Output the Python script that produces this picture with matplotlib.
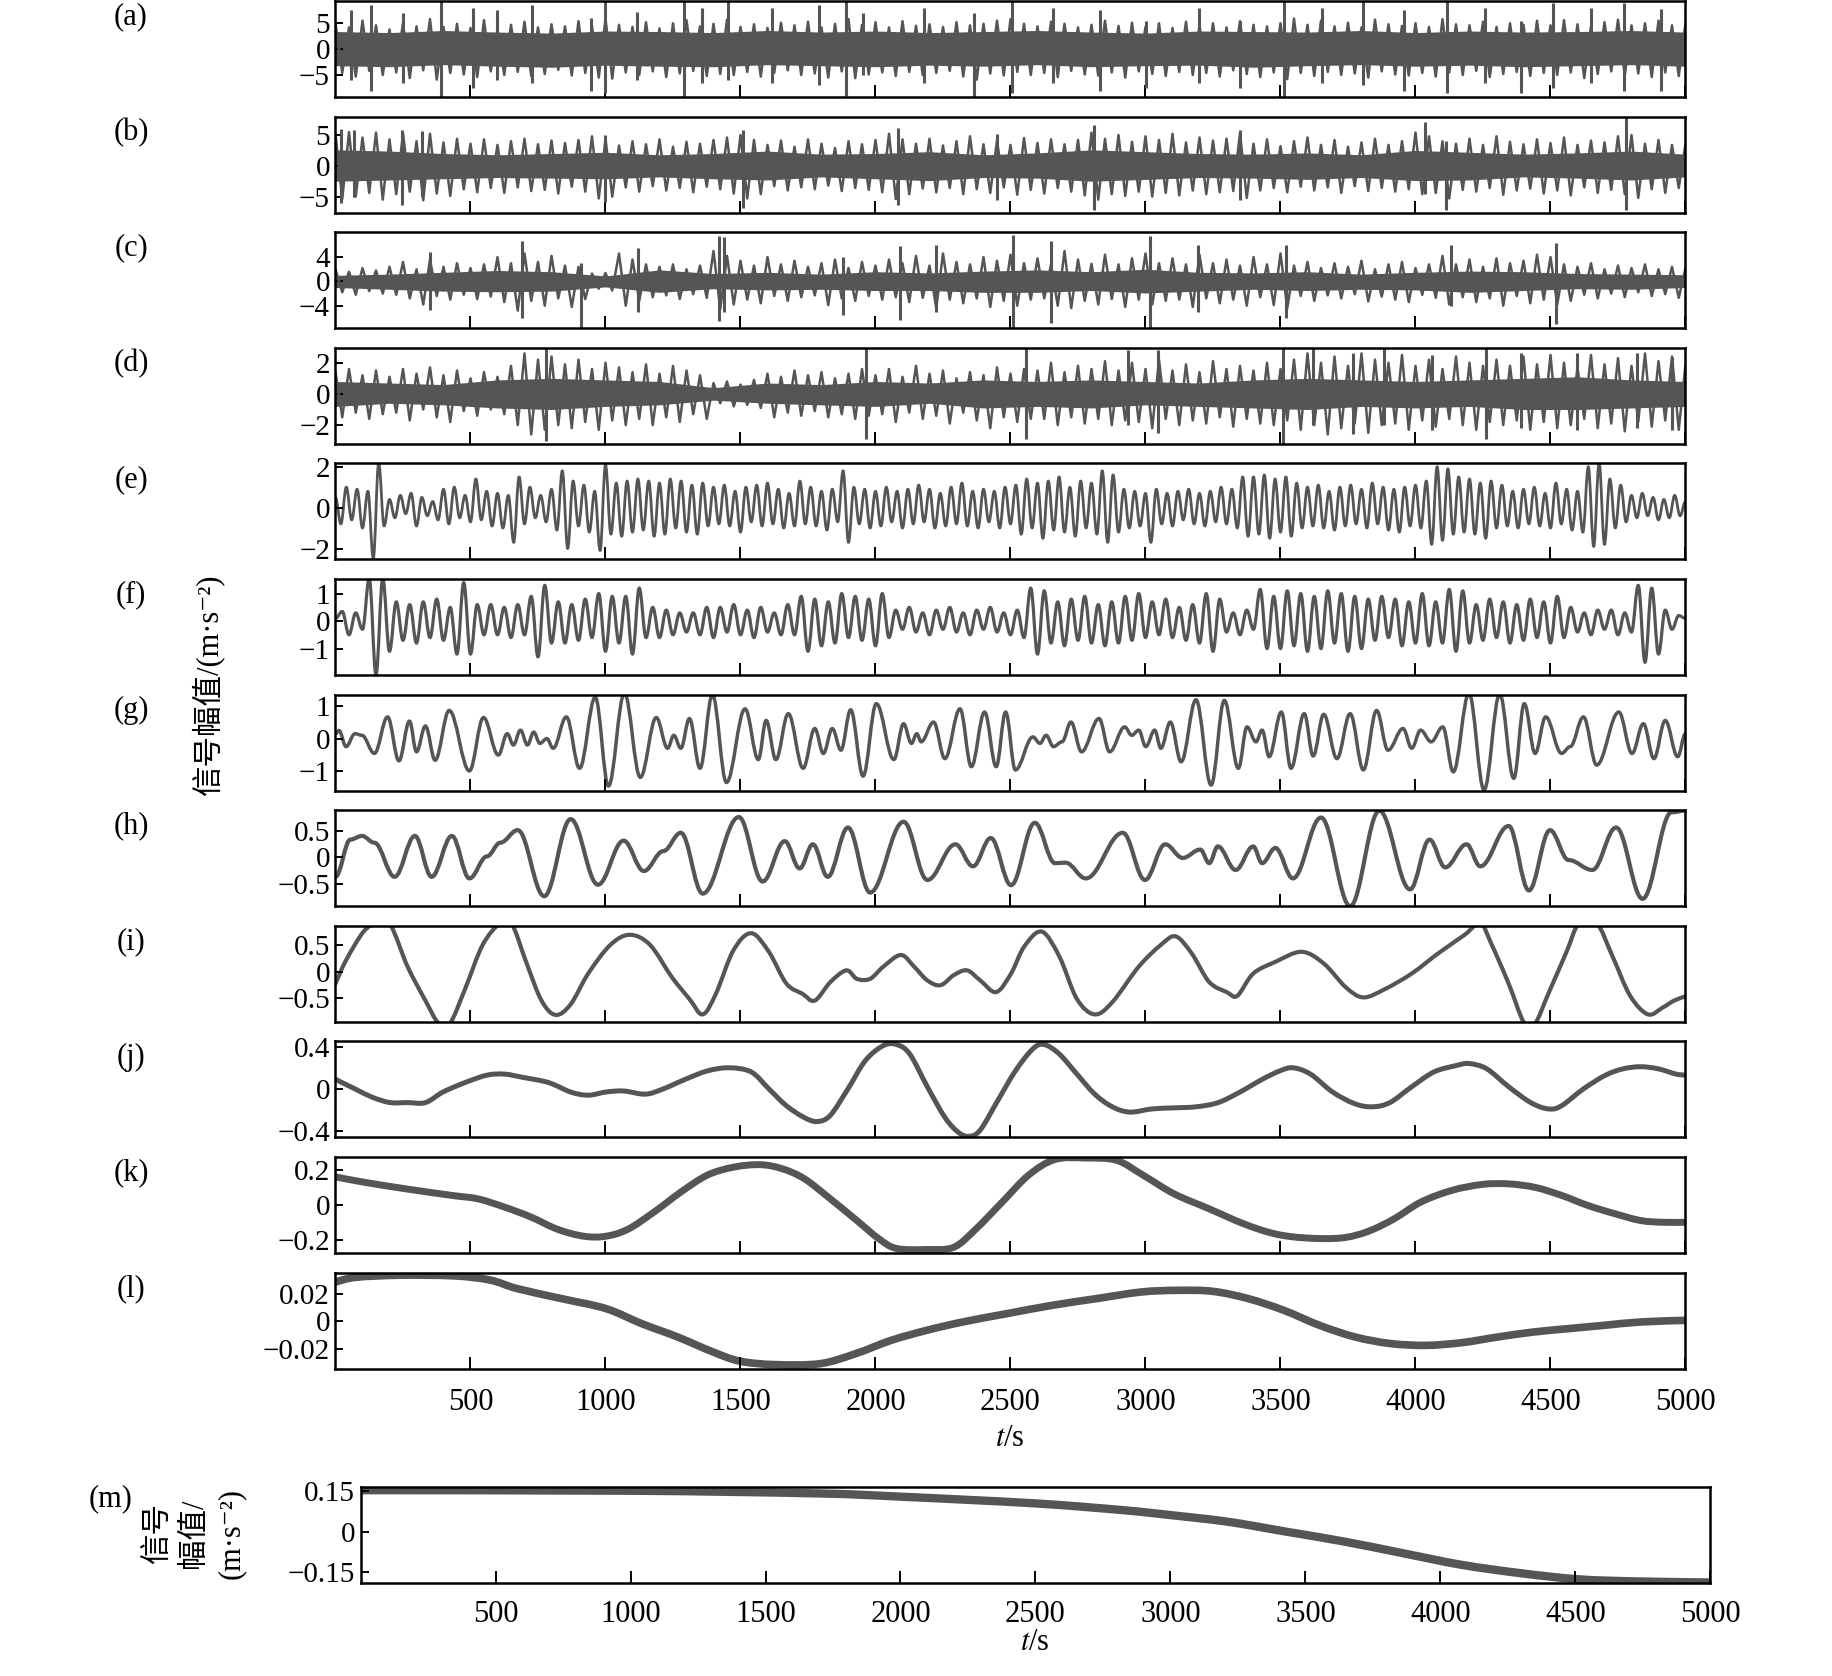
import matplotlib
matplotlib.use('Agg')
import matplotlib.pyplot as plt
from matplotlib.path import Path
from matplotlib.patches import PathPatch
import numpy as np

plt.rcParams['font.family'] = ['Liberation Serif', 'Noto Sans CJK SC', 'DejaVu Sans']
plt.rcParams['mathtext.fontset'] = 'stix'

# ---------------- data ----------------
# (a)-(d): dense IMFs -> solid core, peak envelope every 50 s, tall single spikes
t_core = np.arange(0, 5001, 200)
t_env = np.arange(0, 5001, 50)

a_core_hi = [3.4, 3.2, 3.6, 3.3, 3.1, 3.5, 3.4, 3.2, 3.6, 3.3, 3.5, 3.2, 3.4,
             3.6, 3.3, 3.1, 3.5, 3.4, 3.3, 3.6, 3.2, 3.5, 3.3, 3.4, 3.6, 3.3]
a_core_lo = [-3.2, -3.4, -3.0, -3.3, -3.5, -3.1, -3.3, -3.4, -3.0, -3.2, -3.4, -3.1, -3.3,
             -3.0, -3.4, -3.2, -3.1, -3.5, -3.2, -3.0, -3.3, -3.1, -3.4, -3.2, -3.0, -3.3]
a_hi = [5.0, 4.2, 5.5, 4.6, 3.8, 5.1, 4.4, 5.8, 4.3, 4.9,
        4.1, 5.6, 3.9, 4.7, 5.3, 4.2, 4.8, 4.4, 5.4, 4.5,
        5.9, 4.7, 4.3, 5.2, 4.0, 5.0, 5.6, 4.4, 4.9, 5.7,
        4.3, 4.8, 4.1, 5.1, 4.6, 5.3, 4.2, 4.9, 5.8, 4.7,
        5.2, 4.2, 5.4, 4.5, 4.8, 4.3, 5.2, 4.6, 4.9, 5.5,
        5.8, 4.9, 4.4, 5.3, 4.9, 4.2, 4.7, 5.5, 4.5, 5.1,
        4.3, 5.0, 4.1, 5.3, 4.6, 5.0, 4.2, 5.4, 4.7, 4.4,
        5.0, 5.9, 4.7, 5.5, 4.4, 5.1, 4.2, 5.7, 4.8, 4.5,
        5.0, 4.3, 5.8, 4.8, 4.6, 5.3, 4.3, 5.0, 4.7, 5.5,
        4.6, 5.6, 4.8, 4.4, 5.2, 5.7, 4.6, 5.0, 5.5, 4.6,
        5.0]
a_lo = [-4.6, -5.3, -4.2, -5.0, -4.5, -5.6, -4.1, -5.9, -4.6, -4.9,
        -5.4, -4.3, -5.0, -4.4, -5.2, -4.8, -4.0, -5.1, -4.6, -5.5,
        -5.7, -4.5, -5.0, -4.3, -5.4, -4.7, -4.2, -5.2, -4.8, -5.0,
        -4.4, -5.3, -4.6, -4.1, -5.0, -4.7, -5.5, -4.3, -5.6, -4.9,
        -4.5, -5.2, -4.4, -5.0, -4.6, -4.2, -5.3, -5.9, -4.7, -5.1,
        -4.4, -5.0, -4.6, -5.4, -4.2, -4.9, -5.1, -4.5, -5.5, -4.3,
        -4.8, -5.2, -4.4, -5.0, -4.6, -5.3, -4.1, -4.8, -5.4, -4.5,
        -5.8, -4.6, -5.2, -4.4, -5.0, -4.7, -5.5, -4.3, -4.9, -5.1,
        -4.6, -5.3, -4.5, -5.0, -4.2, -5.4, -4.8, -4.4, -5.2, -4.6,
        -5.0, -4.5, -5.6, -4.8, -4.3, -5.1, -4.7, -5.4, -4.5, -5.2,
        -4.8]
a_spk_t = [56, 130, 251, 390, 511, 598, 728, 945, 997, 1118,
           1291, 1356, 1452, 1616, 1790, 1889, 1954, 2180, 2366, 2505,
           2656, 2830, 3003, 3198, 3350, 3514, 3653, 3804, 3956, 4116,
           4259, 4389, 4511, 4650, 4771, 4909]
a_spk_hi = [7.5, 8.5, 7.0, 9.3, 8.0, 7.5, 8.5, 6.0, 9.3, 7.2,
            9.3, 8.0, 9.3, 8.0, 8.5, 9.3, 7.0, 8.0, 7.0, 9.3,
            8.0, 7.5, 5.5, 8.0, 5.5, 9.3, 8.0, 9.3, 7.5, 9.3,
            8.0, 5.5, 9.0, 8.0, 9.0, 7.8]
a_spk_lo = [-6.0, -8.0, -6.5, -9.3, -7.5, -6.0, -6.5, -8.0, -8.5, -6.0,
            -9.3, -6.5, -6.0, -6.5, -7.0, -9.0, -5.0, -6.5, -9.3, -8.5,
            -6.5, -8.0, -7.5, -6.5, -7.5, -9.3, -6.5, -7.0, -8.0, -8.5,
            -6.5, -8.5, -7.5, -6.5, -8.0, -8.0]

b_core_hi = [2.6, 2.4, 2.0, 1.8, 2.0, 2.2, 1.8, 2.0, 2.4, 1.9, 2.0, 2.3, 1.8,
             2.1, 2.6, 2.3, 2.0, 1.9, 2.1, 1.8, 2.5, 2.2, 1.9, 2.1, 2.4, 1.9]
b_core_lo = [-2.5, -2.3, -2.1, -1.9, -2.0, -2.1, -1.8, -2.1, -2.3, -1.8, -2.1, -2.4, -1.9,
             -2.0, -2.5, -2.2, -1.9, -2.0, -2.2, -1.9, -2.4, -2.3, -1.8, -2.0, -2.3, -1.8]
b_hi = [5.2, 5.5, 4.6, 5.4, 4.3, 5.3, 4.0, 5.2, 3.8, 4.4,
        3.6, 4.3, 3.4, 4.0, 4.4, 3.5, 4.1, 3.7, 4.2, 4.8,
        4.4, 3.3, 4.0, 3.5, 4.3, 3.1, 3.9, 3.6, 4.2, 4.6,
        5.0, 4.2, 3.4, 4.1, 3.1, 4.3, 3.6, 2.9, 4.0, 3.5,
        4.2, 5.2, 4.3, 3.6, 4.4, 3.3, 4.0, 4.8, 3.5, 4.1,
        3.4, 4.5, 3.7, 4.3, 3.5, 4.2, 5.4, 4.4, 5.0, 3.9,
        4.8, 4.2, 5.2, 3.8, 4.6, 4.1, 4.4, 5.3, 3.6, 4.3,
        3.2, 4.0, 4.6, 3.4, 4.2, 3.1, 3.8, 4.4, 3.4, 4.0,
        5.4, 4.8, 4.0, 3.6, 4.4, 3.4, 4.8, 3.9, 3.5, 4.3,
        3.7, 4.6, 3.4, 4.1, 3.8, 4.8, 5.0, 3.6, 4.2, 3.4,
        3.6]
b_lo = [-5.4, -5.0, -4.4, -5.5, -4.6, -4.2, -5.6, -4.5, -4.9, -3.8,
        -4.3, -3.6, -4.4, -3.5, -4.1, -3.9, -4.5, -3.4, -4.2, -5.3,
        -5.0, -3.5, -4.2, -3.3, -4.0, -3.6, -4.3, -3.4, -3.8, -4.5,
        -5.3, -4.6, -3.3, -4.0, -3.5, -3.8, -3.2, -4.1, -3.6, -3.9,
        -4.3, -5.4, -4.6, -3.7, -4.3, -3.6, -4.6, -3.8, -4.4, -3.5,
        -4.7, -3.9, -4.5, -3.6, -4.2, -4.8, -5.5, -4.6, -4.9, -4.2,
        -5.0, -4.4, -4.8, -4.0, -4.6, -4.3, -4.1, -5.2, -4.0, -3.6,
        -4.3, -3.4, -4.0, -3.5, -4.4, -3.3, -4.1, -3.6, -4.2, -3.8,
        -4.6, -4.4, -5.3, -3.9, -4.2, -3.6, -4.7, -4.0, -3.7, -4.5,
        -4.0, -4.8, -3.5, -4.4, -3.9, -4.6, -5.2, -3.8, -4.4, -3.6,
        -3.5]
b_spk_t = [20, 70, 245, 320, 1000, 1510, 2085, 2450, 2808, 3350, 4034, 4112, 4780]
b_spk_hi = [6.0, 5.9, 5.8, 5.6, 5.0, 5.8, 6.1, 5.2, 6.7, 5.8, 7.2, 4.0, 8.0]
b_spk_lo = [-6.1, -5.0, -6.4, -5.0, -5.8, -6.8, -6.3, -5.5, -7.1, -5.6, -4.5, -7.2, -7.2]

c_core_hi = [1.0, 1.2, 1.5, 1.8, 1.6, 0.9, 1.9, 1.3, 1.5, 1.2, 1.6, 1.4, 1.7,
             1.9, 1.6, 2.0, 1.5, 1.4, 1.6, 1.2, 1.5, 1.7, 1.6, 1.3, 1.2, 1.1]
c_core_lo = [-1.0, -1.3, -1.6, -1.7, -1.6, -0.9, -1.8, -1.2, -1.4, -1.3, -1.5, -1.5, -1.8,
             -1.8, -1.5, -1.9, -1.6, -1.3, -1.5, -1.3, -1.4, -1.8, -1.5, -1.2, -1.3, -1.0]
c_hi = [2.0, 1.6, 2.2, 1.8,
        2.4, 3.2, 2.0, 3.6, 2.4, 3.0, 2.2, 2.8,
        4.0, 3.0, 4.6, 3.2, 4.2, 2.6, 2.4,
        1.3, 1.4,
        4.6, 3.6, 2.8,
        2.4, 2.8, 2.0, 2.6,
        5.0, 4.2,
        3.4, 2.6, 4.0, 2.8, 3.4, 2.4,
        3.0, 3.6, 2.2, 3.2, 2.6, 3.6,
        3.0, 4.2, 2.6, 4.6, 3.2, 2.8, 4.0, 3.4,
        4.4, 3.0,
        3.8, 2.8, 5.0, 3.6, 2.9, 4.4, 2.8, 3.8,
        4.6, 3.0,
        3.8, 2.8, 4.4, 3.0, 3.6, 2.6, 4.0, 2.8, 4.6,
        2.6, 3.2, 2.2, 3.0, 2.4, 3.4, 2.0, 2.8, 3.2, 2.2, 2.8,
        4.2, 2.8, 3.6, 2.4, 3.8, 3.0, 3.4, 4.4, 4.0, 2.8,
        2.4, 3.0, 2.0, 2.6, 2.2, 2.8, 2.0, 2.4, 2.2]
c_lo = [-1.8, -2.2, -1.6, -2.0,
        -2.2, -2.8, -3.8, -2.4, -3.0, -2.2, -2.9, -2.5,
        -3.4, -4.8, -3.2, -4.0, -2.8, -4.2, -2.9,
        -1.2, -1.5,
        -4.0, -3.2, -2.6,
        -2.3, -2.9, -2.1, -2.7,
        -4.6, -3.8,
        -3.0, -3.6, -2.4, -3.2, -2.6, -2.3,
        -3.9, -2.8, -3.2, -2.4, -3.0, -2.6,
        -3.4, -2.7, -4.4, -3.0, -3.6, -2.8, -4.2, -3.2,
        -4.0, -3.0,
        -2.8, -4.0, -4.4, -3.2, -3.8, -2.9, -4.2, -3.0,
        -3.8, -3.2,
        -3.0, -4.2, -2.8, -3.6, -3.0, -4.0, -2.6, -3.9, -4.4,
        -2.4, -3.2, -2.3, -2.8, -2.1, -3.3, -2.5, -3.0, -3.4, -2.2, -2.7,
        -3.8, -2.6, -3.4, -2.8, -4.0, -2.4, -3.6, -3.0, -3.8, -3.2,
        -2.2, -2.8, -2.0, -2.6, -1.8, -2.4, -2.1, -2.7, -2.0]
c_spk_t = [350, 690, 910, 1120, 1420, 1440, 1880, 2090, 2225, 2509, 2650, 3015, 3196, 3520, 4130, 4520]
c_spk_hi = [4.9, 6.7, 3.0, 5.5, 7.5, 7.3, 4.0, 5.8, 6.0, 7.7, 6.6, 7.5, 6.0, 6.0, 6.0, 6.3]
c_spk_lo = [-4.7, -6.0, -7.6, -5.0, -6.5, -5.0, -5.5, -6.4, -5.0, -7.7, -6.8, -7.6, -5.0, -6.0, -4.0, -7.0]

d_core_hi = [0.8, 0.7, 0.6, 0.9, 1.0, 0.9, 0.8, 0.4, 0.7, 0.6, 0.8, 0.7, 0.9,
             0.8, 0.9, 0.8, 0.7, 0.9, 1.0, 0.9, 0.8, 0.9, 1.0, 1.1, 0.9, 0.8]
d_core_lo = [-0.8, -0.6, -0.7, -0.9, -1.0, -0.8, -0.7, -0.4, -0.6, -0.7, -0.8, -0.6, -0.9,
             -0.8, -0.9, -0.7, -0.8, -0.9, -1.0, -0.8, -0.9, -0.8, -1.0, -1.0, -0.9, -0.8]
d_hi = [1.4, 1.6, 1.2, 1.5,
        1.1, 1.6, 1.3, 1.7, 1.2, 1.5, 1.0, 1.4, 1.1,
        1.8, 2.6, 2.2, 2.4,
        1.9, 2.2, 1.6, 2.0, 1.7,
        1.4, 1.9, 1.3, 1.8, 1.5, 1.2,
        0.7, 0.8, 0.6, 0.9,
        1.3, 1.1, 1.5, 1.2, 1.4, 1.0, 1.3,
        1.6,
        1.2, 1.6, 1.1, 1.8, 1.3, 1.5, 1.0, 1.4, 1.2, 1.7, 1.3,
        1.6,
        1.5, 2.0, 1.4, 1.8, 1.6, 2.1, 1.5,
        2.0, 1.6, 2.2, 1.5, 1.9, 1.4, 2.1, 1.6, 1.8, 1.5, 2.0,
        1.6, 2.2, 2.6, 2.0, 2.4, 1.8, 2.6, 2.2,
        2.0, 2.5, 1.8, 2.2, 1.6, 2.4, 2.0,
        1.8,
        2.2, 1.8, 2.4, 1.9, 2.5, 2.0, 1.7, 2.5, 1.9, 2.3, 1.8, 2.6, 2.1, 2.4, 1.9]
d_lo = [-1.5, -1.2, -1.6, -1.3,
        -1.2, -1.7, -1.0, -1.5, -1.8, -1.1, -1.4, -1.0, -1.3,
        -2.0, -2.6, -2.3, -2.0,
        -2.2, -1.8, -2.3, -1.7, -2.0,
        -1.6, -2.0, -1.5, -1.8, -1.3, -1.6,
        -0.6, -0.8, -0.7, -0.9,
        -1.5, -1.2, -1.4, -1.1, -1.5, -1.3, -1.6,
        -1.4,
        -1.3, -1.8, -1.2, -1.6, -1.4, -1.9, -1.2, -1.7, -2.2, -1.5, -1.8,
        -1.6,
        -1.6, -2.0, -1.5, -1.9, -1.6, -2.0, -1.7,
        -1.8, -2.2, -1.6, -2.0, -1.7, -1.9, -1.5, -2.1, -1.6, -1.9, -2.0,
        -1.7, -2.3, -2.0, -2.6, -2.2, -1.9, -2.5, -2.0,
        -1.9, -2.3, -1.7, -2.1, -1.6, -2.0, -2.3,
        -1.8,
        -2.0, -1.7, -2.3, -1.8, -2.2, -2.0, -1.6, -2.2, -1.9, -2.4, -1.8, -2.1, -1.7, -2.3, -1.9]
d_spk_t = [780, 1963, 2557, 2934, 3046, 3510, 3620, 3770, 3883, 4060, 4260, 4390, 4600, 4820, 4950]
d_spk_hi = [3.0, 3.0, 3.0, 2.8, 2.8, 3.0, 3.0, 2.6, 3.0, 2.5, 3.0, 2.6, 2.6, 2.6, 2.4]
d_spk_lo = [-3.0, -2.9, -2.9, -2.0, -2.5, -3.2, -2.0, -2.6, -2.0, -2.3, -2.9, -2.2, -2.3, -2.2, -2.3]

# (e), (f): extrema on a fixed grid
t_e = np.arange(0, 5001, 20)
e_v = [0.5, -0.8, 1.0, -0.6, 0.9, -1.0, 0.8, -2.5, 2.2, -0.9,
       0.4, -0.5, 0.6, -0.3, 0.7, -0.9, 0.5, -0.4, 0.3, -0.6,
       0.9, -0.8, 1.0, -0.5, 0.6, -0.7, 1.4, -0.6, 0.8, -0.9,
       0.7, -1.0, 0.6, -1.7, 1.5, -0.8, 1.0, -0.5, 0.6, -0.7,
       0.9, -1.1, 1.8, -2.0, 1.3, -0.9, 1.1, -1.2, 0.8, -2.1,
       2.1, -1.3, 1.2, -1.4, 1.3, -1.2, 1.4, -1.1, 1.3, -1.4,
       1.2, -1.3, 1.4, -1.0, 1.3, -1.2, 1.1, -1.3, 1.2, -0.9,
       1.0, -0.8, 1.1, -0.9, 0.8, -1.2, 1.0, -0.7, 1.1, -0.9,
       1.2, -0.8, 0.9, -1.0, 0.7, -0.9, 1.3, -0.8, 1.0, -0.9,
       0.8, -1.1, 0.9, -0.7, 1.8, -1.7, 1.0, -0.8, 0.9, -1.0,
       0.8, -0.9, 1.0, -0.7, 0.8, -1.0, 0.9, -0.8, 1.1, -0.7,
       0.9, -1.0, 0.7, -0.9, 1.0, -0.8, 1.2, -0.9, 0.8, -1.0,
       0.9, -0.7, 0.8, -1.0, 1.0, -0.8, 1.1, -1.3, 1.4, -1.0,
       1.2, -1.5, 1.3, -1.1, 1.5, -1.2, 1.0, -1.4, 1.3, -1.0,
       1.2, -1.3, 1.8, -1.7, 1.6, -1.2, 0.9, -1.0, 0.8, -0.9,
       0.7, -1.7, 0.9, -0.8, 0.7, -0.9, 0.8, -0.6, 0.9, -0.8,
       0.7, -0.9, 0.8, -0.7, 1.0, -0.8, 0.9, -1.0, 1.5, -1.4,
       1.5, -1.3, 1.6, -1.5, 1.4, -1.2, 1.5, -1.4, 1.2, -1.0,
       1.0, -0.9, 1.1, -1.0, 0.8, -1.1, 1.0, -0.9, 1.1, -0.8,
       0.9, -1.0, 1.2, -0.8, 1.0, -1.1, 0.9, -1.2, 1.0, -0.9,
       1.1, -1.0, 1.3, -1.8, 2.0, -1.6, 1.9, -1.3, 1.5, -1.2,
       1.4, -1.3, 1.2, -1.5, 1.3, -1.0, 1.1, -0.9, 0.8, -1.0,
       0.9, -0.8, 1.0, -0.9, 0.7, -1.0, 1.2, -0.8, 0.9, -1.1,
       0.8, -1.2, 2.0, -1.9, 2.2, -1.8, 1.4, -1.0, 1.1, -0.7,
       0.6, -0.5, 0.7, -0.4, 0.5, -0.6, 0.4, -0.5, 0.6, -0.4,
       0.3]

t_f = np.arange(0, 5001, 25)
f_v = [0.1, 0.35, -0.5, 0.3, -0.3, 1.55, -1.95, 1.55, -1.1, 0.7,
       -0.7, 0.6, -0.8, 0.7, -0.6, 0.8, -0.7, 0.5, -1.2, 1.4,
       -1.2, 0.6, -0.5, 0.6, -0.5, 0.5, -0.6, 0.6, -0.5, 0.9,
       -1.3, 1.3, -0.8, 0.7, -0.8, 0.6, -0.7, 0.8, -0.6, 1.0,
       -1.1, 0.9, -0.8, 0.9, -1.2, 1.2, -0.6, 0.5, -0.6, 0.4,
       -0.5, 0.3, -0.4, 0.3, -0.5, 0.5, -0.6, 0.5, -0.4, 0.6,
       -0.5, 0.4, -0.6, 0.5, -0.4, 0.3, -0.5, 0.6, -0.5, 0.9,
       -1.1, 0.8, -0.9, 0.7, -0.8, 1.0, -0.6, 0.9, -0.7, 0.8,
       -0.9, 1.0, -0.6, 0.4, -0.3, 0.5, -0.4, 0.3, -0.5, 0.4,
       -0.3, 0.5, -0.4, 0.3, -0.5, 0.4, -0.3, 0.5, -0.4, 0.3,
       -0.5, 0.4, -0.6, 1.2, -1.2, 1.1, -0.8, 0.7, -0.9, 0.8,
       -0.7, 0.9, -0.8, 0.6, -0.9, 0.7, -0.8, 0.9, -0.7, 1.0,
       -0.6, 0.7, -0.5, 0.8, -0.6, 0.5, -0.7, 0.6, -0.8, 1.0,
       -1.1, 0.8, -0.4, 0.3, -0.5, 0.4, -0.3, 1.15, -1.0, 0.9,
       -1.0, 1.1, -0.9, 1.0, -1.1, 0.9, -1.0, 1.1, -0.8, 1.0,
       -1.1, 0.9, -1.0, 0.8, -0.7, 0.9, -0.6, 0.8, -0.9, 0.7,
       -0.8, 1.0, -0.9, 0.7, -0.8, 1.15, -1.1, 1.1, -0.8, 0.6,
       -0.7, 0.8, -0.6, 0.7, -0.8, 0.6, -0.7, 0.8, -0.6, 0.7,
       -0.8, 0.9, -0.6, 0.5, -0.4, 0.3, -0.5, 0.4, -0.3, 0.4,
       -0.5, 0.3, -0.4, 1.3, -1.5, 1.2, -1.2, 0.4, -0.3, 0.2,
       0.1]

# (g)-(m): turning points (time, value)
g_t = [0, 13, 39, 72, 98, 144, 193, 235, 274, 300, 333, 369, 421, 496, 548, 603, 636, 659, 685, 711,
       734, 757, 783, 806, 855, 904, 962, 1011, 1070, 1129, 1188, 1230, 1253, 1279, 1311, 1350, 1396, 1448, 1517, 1566,
       1595, 1631, 1677, 1732, 1775, 1807, 1840, 1872, 1908, 1954, 2003, 2068, 2104, 2133, 2153, 2169, 2215, 2257, 2313, 2355,
       2404, 2447, 2482, 2518, 2583, 2609, 2632, 2659, 2691, 2724, 2763, 2828, 2867, 2923, 2949, 2975, 3001, 3034, 3057, 3092,
       3132, 3187, 3243, 3292, 3344, 3376, 3409, 3432, 3458, 3503, 3539, 3588, 3621, 3660, 3709, 3758, 3807, 3856, 3898, 3954,
       3986, 4019, 4058, 4101, 4140, 4198, 4254, 4312, 4364, 4403, 4443, 4482, 4541, 4573, 4622, 4671, 4753, 4802, 4844, 4883,
       4925, 4971, 5000]
g_v = [0.15, 0.25, -0.25, 0.15, 0.1, -0.46, 0.67, -0.69, 0.54, -0.41, 0.39, -0.67, 0.87, -1.0, 0.65, -0.51, 0.15, -0.2, 0.26, -0.2,
       0.2, -0.15, 0.0, -0.3, 0.67, -0.92, 1.28, -1.47, 1.4, -1.2, 0.65, -0.3, 0.1, -0.3, 0.62, -0.92, 1.36, -1.36, 0.92, -0.65,
       0.56, -0.65, 0.77, -0.92, 0.31, -0.46, 0.31, -0.36, 0.89, -1.16, 1.08, -0.65, 0.46, -0.15, 0.15, -0.1, 0.51, -0.62, 0.92, -0.87,
       0.82, -0.87, 0.82, -0.97, 0.05, -0.15, 0.1, -0.25, -0.1, 0.51, -0.41, 0.62, -0.41, 0.36, 0.1, 0.26, -0.25, 0.26, -0.3, 0.51,
       -0.72, 1.2, -1.44, 1.18, -0.92, 0.36, -0.1, 0.26, -0.56, 0.82, -0.92, 0.77, -0.54, 0.75, -0.62, 0.77, -0.97, 0.87, -0.36, 0.31,
       -0.3, 0.26, -0.1, 0.36, -1.03, 1.4, -1.59, 1.38, -1.23, 1.08, -0.46, 0.67, -0.46, -0.25, 0.67, -0.82, 0.82, -0.46, 0.46, -0.62,
       0.56, -0.56, 0.15]

h_t = [0, 55, 98, 144, 219, 294, 356, 431, 496, 561, 610, 675, 773, 871, 972, 1067, 1142, 1214, 1279, 1360,
       1494, 1582, 1664, 1719, 1768, 1823, 1898, 1980, 2104, 2192, 2296, 2361, 2427, 2502, 2590, 2665, 2704, 2779, 2916, 2998,
       3073, 3138, 3203, 3236, 3268, 3334, 3399, 3432, 3481, 3546, 3650, 3758, 3866, 3980, 4052, 4110, 4189, 4240, 4345, 4420,
       4498, 4567, 4655, 4743, 4841, 4948, 5000]
h_v = [-0.37, 0.34, 0.41, 0.28, -0.37, 0.41, -0.37, 0.41, -0.4, 0.02, 0.28, 0.52, -0.74, 0.73, -0.52, 0.32, -0.26, 0.12, 0.47, -0.69,
       0.77, -0.46, 0.31, -0.21, 0.25, -0.37, 0.57, -0.67, 0.68, -0.43, 0.25, -0.17, 0.37, -0.53, 0.66, -0.11, -0.1, -0.4, 0.47, -0.43,
       0.25, -0.01, 0.15, -0.11, 0.21, -0.24, 0.21, -0.11, 0.18, -0.4, 0.76, -0.93, 0.89, -0.61, 0.34, -0.19, 0.25, -0.17, 0.6, -0.63,
       0.52, -0.05, -0.24, 0.57, -0.79, 0.86, 0.89]

i_t = [0, 39, 104, 153, 202, 267, 333, 382, 424, 480, 545, 610, 652, 708, 763, 815, 871, 936, 1018, 1090,
       1165, 1246, 1311, 1360, 1409, 1474, 1540, 1605, 1670, 1729, 1775, 1833, 1892, 1931, 1980, 2029, 2094, 2143, 2192, 2241,
       2290, 2339, 2388, 2447, 2502, 2551, 2616, 2681, 2746, 2812, 2877, 2975, 3057, 3112, 3171, 3236, 3301, 3340, 3399, 3481,
       3578, 3660, 3742, 3807, 3888, 3986, 4084, 4182, 4240, 4280, 4345, 4403, 4443, 4492, 4557, 4606, 4671, 4730, 4795, 4861,
       4916, 4958, 5000]
i_v = [-0.22, 0.22, 0.76, 0.92, 0.9, 0.1, -0.54, -0.97, -0.97, -0.32, 0.51, 0.92, 0.92, 0.16, -0.54, -0.81, -0.61, -0.03, 0.51, 0.7,
       0.51, -0.1, -0.51, -0.8, -0.41, 0.41, 0.73, 0.38, -0.22, -0.41, -0.54, -0.19, 0.03, -0.13, -0.13, 0.1, 0.32, 0.1, -0.16, -0.25,
       -0.06, 0.03, -0.16, -0.38, -0.03, 0.48, 0.76, 0.29, -0.51, -0.8, -0.57, 0.1, 0.51, 0.67, 0.35, -0.19, -0.38, -0.45, -0.03, 0.19,
       0.38, 0.16, -0.29, -0.48, -0.32, -0.03, 0.35, 0.7, 0.92, 0.54, -0.22, -0.97, -0.97, -0.41, 0.35, 0.92, 0.92, 0.29, -0.45, -0.8,
       -0.67, -0.54, -0.46]

j_t = [0, 72, 137, 202, 267, 333, 398, 480, 561, 626, 692, 789, 871, 936, 1001, 1067, 1148, 1214, 1295, 1377,
       1458, 1540, 1605, 1670, 1735, 1784, 1833, 1898, 1963, 2029, 2078, 2127, 2192, 2257, 2306, 2346, 2388, 2453, 2518, 2583,
       2625, 2681, 2746, 2812, 2877, 2942, 3024, 3106, 3187, 3269, 3350, 3432, 3497, 3546, 3611, 3693, 3774, 3839, 3905, 3986,
       4068, 4149, 4198, 4264, 4345, 4427, 4492, 4541, 4622, 4704, 4769, 4834, 4899, 4965, 5000]
j_v = [0.09, 0.0, -0.08, -0.13, -0.13, -0.13, -0.03, 0.06, 0.13, 0.14, 0.11, 0.06, -0.03, -0.06, -0.03, -0.02, -0.05, 0.0, 0.09, 0.17,
       0.2, 0.16, 0.0, -0.16, -0.27, -0.31, -0.25, 0.0, 0.27, 0.41, 0.42, 0.33, 0.02, -0.27, -0.41, -0.45, -0.39, -0.11, 0.17, 0.38,
       0.42, 0.33, 0.14, -0.05, -0.17, -0.22, -0.19, -0.18, -0.17, -0.13, -0.03, 0.09, 0.17, 0.2, 0.14, -0.03, -0.14, -0.17, -0.13, 0.02,
       0.16, 0.22, 0.24, 0.19, 0.02, -0.13, -0.19, -0.16, 0.0, 0.13, 0.19, 0.21, 0.19, 0.14, 0.13]

k_t = [0, 104, 267, 431, 528, 626, 724, 822, 920, 1001, 1083, 1181, 1279, 1377, 1475, 1573, 1654, 1736, 1833, 1931,
       2013, 2078, 2192, 2290, 2371, 2469, 2567, 2665, 2779, 2893, 2991, 3106, 3236, 3366, 3481, 3595, 3725, 3823, 3921, 4019,
       4133, 4247, 4345, 4443, 4541, 4639, 4736, 4834, 4916, 5000]
k_v = [0.16, 0.13, 0.09, 0.054, 0.034, -0.013, -0.07, -0.14, -0.18, -0.18, -0.14, -0.04, 0.073, 0.17, 0.216, 0.23, 0.207, 0.15, 0.034, -0.09,
       -0.195, -0.25, -0.256, -0.243, -0.14, 0.015, 0.17, 0.26, 0.268, 0.255, 0.17, 0.063, -0.023, -0.11, -0.167, -0.19, -0.19, -0.153, -0.08, 0.015,
       0.082, 0.117, 0.12, 0.1, 0.054, -0.004, -0.05, -0.09, -0.1, -0.1]

l_t = [0, 77, 242, 441, 572, 672, 837, 1002, 1134, 1267, 1398, 1498, 1629, 1795, 1927, 2059, 2191, 2323, 2488, 2654,
       2819, 2984, 3116, 3248, 3380, 3512, 3644, 3776, 3908, 4041, 4173, 4305, 4437, 4569, 4701, 4833, 5000]
l_v = [0.0286, 0.032, 0.0335, 0.033, 0.03, 0.0238, 0.0165, 0.0092, -0.0017, -0.0114, -0.0223, -0.029, -0.0315, -0.0308, -0.0235,
       -0.0138, -0.0065, -0.0005, 0.0056, 0.0116, 0.0165, 0.0213, 0.0225, 0.0218, 0.0165, 0.008, -0.0029, -0.0114, -0.0162, -0.0175,
       -0.0155, -0.0114, -0.0078, -0.0053, -0.0029, -0.0005, 0.0007]

m_t = [0, 1000, 1694, 2000, 2498, 2822, 2995, 3211, 3428, 3644, 3860, 4076, 4293, 4509, 4726, 5000]
m_v = [0.154, 0.152, 0.142, 0.13, 0.105, 0.08, 0.062, 0.037, 0.0, -0.037, -0.08, -0.123, -0.154, -0.177, -0.185, -0.189]

panel_names = ['(a)', '(b)', '(c)', '(d)', '(e)', '(f)', '(g)', '(h)', '(i)', '(j)', '(k)', '(l)']
ylims = [(-9.25, 9.3), (-7.6, 8.0), (-7.7, 8.1), (-3.2, 2.96), (-2.53, 2.16), (-1.96, 1.53),
         (-1.61, 1.36), (-0.93, 0.9), (-0.94, 0.87), (-0.46, 0.45), (-0.276, 0.274), (-0.0344, 0.0354)]
yticks = [[-5, 0, 5], [-5, 0, 5], [-4, 0, 4], [-2, 0, 2], [-2, 0, 2], [-1, 0, 1], [-1, 0, 1],
          [-0.5, 0, 0.5], [-0.5, 0, 0.5], [-0.4, 0, 0.4], [-0.2, 0, 0.2], [-0.02, 0, 0.02]]
ytick_text = [['−5', '0', '5'], ['−5', '0', '5'], ['−4', '0', '4'], ['−2', '0', '2'], ['−2', '0', '2'],
              ['−1', '0', '1'], ['−1', '0', '1'], ['−0.5', '0', '0.5'], ['−0.5', '0', '0.5'],
              ['−0.4', '0', '0.4'], ['−0.2', '0', '0.2'], ['−0.02', '0', '0.02']]
xt = [500, 1000, 1500, 2000, 2500, 3000, 3500, 4000, 4500, 5000]

# ---------------- figure ----------------
W, H = 1833, 1676
fig = plt.figure(figsize=(W / 100, H / 100), dpi=100)
col = '#555555'
fs = 22


def style(ax, ylim, yt, ytl, show_x, xpad):
    ax.set_xlim(0, 5000)
    ax.set_ylim(*ylim)
    ax.set_xticks(xt)
    ax.set_yticks(yt)
    ax.set_yticklabels(ytl)
    if show_x:
        ax.set_xticklabels([str(v) for v in xt])
    else:
        ax.set_xticklabels([])
    ax.tick_params(direction='in', top=False, right=False, width=1.4)
    ax.tick_params(axis='x', length=9, pad=xpad, labelsize=fs)
    ax.tick_params(axis='y', length=6, pad=4, labelsize=21)
    for s in ax.spines.values():
        s.set_linewidth(1.8)


def add_curve(ax, verts, lw):
    codes = [Path.MOVETO] + [Path.CURVE4] * (len(verts) - 1)
    ax.add_patch(PathPatch(Path(verts, codes), fill=False, edgecolor=col, lw=lw,
                           joinstyle='round', capstyle='round'))


def smooth_extrema(ax, t, v, lw):
    # turning points joined by cubic curves with flat tangents at each extremum
    verts = [(t[0], v[0])]
    for i in range(len(t) - 1):
        dt = t[i + 1] - t[i]
        verts += [(t[i] + 0.37 * dt, v[i]), (t[i + 1] - 0.37 * dt, v[i + 1]), (t[i + 1], v[i + 1])]
    add_curve(ax, verts, lw)


def smooth_through(ax, t, v, lw):
    # Catmull-Rom style curve through the read points
    n = len(t)
    verts = [(t[0], v[0])]
    for i in range(n - 1):
        a, b = max(i - 1, 0), min(i + 2, n - 1)
        c1 = (t[i] + (t[i + 1] - t[a]) / 6, v[i] + (v[i + 1] - v[a]) / 6)
        c2 = (t[i + 1] - (t[b] - t[i]) / 6, v[i + 1] - (v[b] - v[i]) / 6)
        verts += [c1, c2, (t[i + 1], v[i + 1])]
    add_curve(ax, verts, lw)


axes = []
for k in range(12):
    top = 1 + 115.6 * k
    ax = fig.add_axes([335.5 / W, 1 - (top + 96) / H, 1350 / W, 96 / H])
    style(ax, ylims[k], yticks[k], ytick_text[k], k == 11, 14)
    fig.text(131 / W, 1 - (top + 16) / H, panel_names[k], ha='center', va='center', fontsize=fs)
    axes.append(ax)

dense = [(a_core_hi, a_core_lo, a_hi, a_lo, a_spk_t, a_spk_hi, a_spk_lo),
         (b_core_hi, b_core_lo, b_hi, b_lo, b_spk_t, b_spk_hi, b_spk_lo),
         (c_core_hi, c_core_lo, c_hi, c_lo, c_spk_t, c_spk_hi, c_spk_lo),
         (d_core_hi, d_core_lo, d_hi, d_lo, d_spk_t, d_spk_hi, d_spk_lo)]
for ax, (chi, clo, hi, lo, st, sh, sl) in zip(axes[:4], dense):
    ax.fill_between(t_core, clo, chi, color=col, lw=0)
    # peaks alternate up / down between the envelope samples
    tz = np.column_stack([t_env, t_env + 25]).ravel()
    vz = np.column_stack([hi, lo]).ravel()
    ax.plot(tz, vz, color=col, lw=1.8)
    ax.vlines(st, sl, sh, color=col, lw=2.2)

smooth_extrema(axes[4], t_e, e_v, 2.0)
smooth_extrema(axes[5], t_f, f_v, 2.3)
smooth_extrema(axes[6], g_t, g_v, 2.5)
smooth_extrema(axes[7], h_t, h_v, 3.0)
smooth_through(axes[8], i_t, i_v, 3.0)
smooth_through(axes[9], j_t, j_v, 3.6)
smooth_through(axes[10], k_t, k_v, 5.0)
smooth_through(axes[11], l_t, l_v, 5.5)

fig.text(208 / W, 1 - 685 / H, '信号幅值/(m·s⁻²)', rotation=90, ha='center', va='center', fontsize=fs)
fig.text(1010 / W, 1 - 1438 / H, '$t$/s', ha='center', va='center', fontsize=fs)

# separate residual panel (m)
axm = fig.add_axes([360.6 / W, 1 - 1583 / H, 1349.7 / W, 96.3 / H])
style(axm, (-0.191, 0.167), [-0.15, 0, 0.15], ['−0.15', '0', '0.15'], True, 12)
smooth_through(axm, m_t, m_v, 6.0)
fig.text(111 / W, 1 - 1499 / H, '(m)', ha='center', va='center', fontsize=fs)
fig.text(195 / W, 1 - 1533 / H, '信号\n幅值/\n(m·s⁻²)', rotation=90, ha='center', va='center',
         fontsize=fs, multialignment='center', linespacing=1.35)
fig.text(1035 / W, 1 - 1642 / H, '$t$/s', ha='center', va='center', fontsize=fs)

fig.savefig('out.png', dpi=100)
